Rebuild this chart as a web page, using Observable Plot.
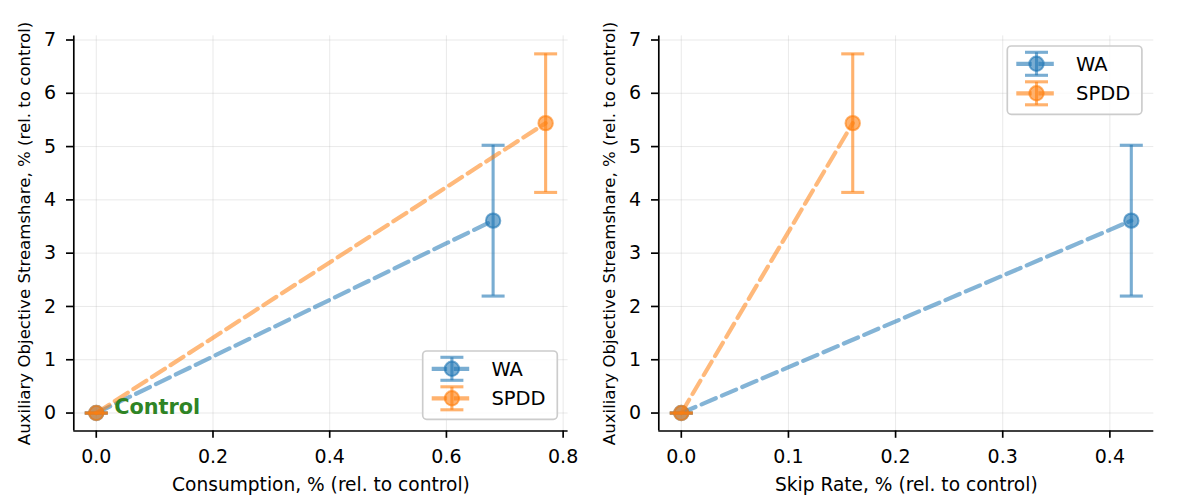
<!DOCTYPE html>
<html><head><meta charset="utf-8">
<script src="https://cdn.jsdelivr.net/npm/d3@7"></script>
<script src="https://cdn.jsdelivr.net/npm/@observablehq/plot@0.6"></script>
<style>
body{margin:0;background:#fff;}
#wrap{display:flex;width:1192px;height:496px;overflow:hidden;}
</style></head><body><div id="wrap"></div>
<script>
// ---- data ----
const series = ["WA", "SPDD"];
const seriesColors = ["#1f77b4", "#ff7f0e"];
const consumption = [0.68, 0.77];
const skipRate = [0.42, 0.16];
const streamshare = [3.61, 5.44];
const streamshareErr = [1.415, 1.30];
const controlPoint = {x: 0, y: 0, err: 0};
const controlLabel = "Control";
const ticksConsumption = [0, 0.2, 0.4, 0.6, 0.8];
const ticksSkip = [0, 0.1, 0.2, 0.3, 0.4];
const ticksY = [0, 1, 2, 3, 4, 5, 6, 7];
const labelConsumption = "Consumption, % (rel. to control)";
const labelSkip = "Skip Rate, % (rel. to control)";
const labelY = "Auxiliary Objective Streamshare, % (rel. to control)";

const capSymbol = {draw(ctx, size) { const r = Math.sqrt(size / Math.PI); ctx.moveTo(-r, 0); ctx.lineTo(r, 0); }};

function pad(lo, hi) { const d = hi - lo; return [lo - 0.05 * d, hi + 0.05 * d]; }

function panel({xs, xTicks, xLabel, marginLeft, marginRight, legendX, legendY, showControl}) {
  const rows = series.map((s, i) => [
    {series: s, x: controlPoint.x, y: controlPoint.y, lo: controlPoint.y - controlPoint.err, hi: controlPoint.y + controlPoint.err},
    {series: s, x: xs[i], y: streamshare[i], lo: streamshare[i] - streamshareErr[i], hi: streamshare[i] + streamshareErr[i]}
  ]);
  const all = rows.flat();
  const xd = pad(d3.min(all, d => d.x), d3.max(all, d => d.x));
  const yd = pad(d3.min(all, d => d.lo), d3.max(all, d => d.hi));
  const marks = [
    Plot.gridX(xTicks, {stroke: "#b0b0b0", strokeOpacity: 0.28, strokeWidth: 1}),
    Plot.gridY(ticksY, {stroke: "#b0b0b0", strokeOpacity: 0.28, strokeWidth: 1}),
    Plot.ruleX([xd[0]], {stroke: "black", strokeWidth: 1.67}),
    Plot.ruleY([yd[0]], {stroke: "black", strokeWidth: 1.67}),
    Plot.axisX({ticks: xTicks, tickFormat: d3.format(".1f"), tickSize: 7.3, tickPadding: 10.8, strokeWidth: 1.67, label: xLabel, labelAnchor: "center", labelArrow: "none", labelOffset: 60, fontSize: 19}),
    Plot.axisY({ticks: ticksY, tickFormat: d3.format("d"), tickSize: 7.3, tickPadding: 10.5, strokeWidth: 1.67, label: labelY, labelAnchor: "center", labelArrow: "none", labelOffset: 56, fontSize: 19})
  ];
  rows.forEach((r, i) => {
    const c = seriesColors[i];
    marks.push(
      Plot.line(r, {x: "x", y: "y", stroke: c, strokeOpacity: 0.55, strokeWidth: 4.2, strokeDasharray: "15.4,6.7"}),
      Plot.ruleX(r, {x: "x", y1: "lo", y2: "hi", stroke: c, strokeOpacity: 0.6, strokeWidth: 3.1}),
      Plot.dot(r, {x: "x", y: "hi", symbol: capSymbol, r: 11.5, fill: "none", stroke: c, strokeOpacity: 0.6, strokeWidth: 3.1}),
      Plot.dot(r, {x: "x", y: "lo", symbol: capSymbol, r: 11.5, fill: "none", stroke: c, strokeOpacity: 0.6, strokeWidth: 3.1}),
      Plot.dot(r, {x: "x", y: "y", r: 7.2, fill: c, fillOpacity: 0.6, stroke: c, strokeOpacity: 0.6, strokeWidth: 2})
    );
  });
  if (showControl) {
    marks.push(Plot.text([controlPoint], {x: "x", y: "y", text: () => controlLabel, dx: 18, dy: 0.7, lineAnchor: "bottom", textAnchor: "start", fill: "#2f8425", fontWeight: "bold", fontSize: 20.8}));
  }
  const svg = Plot.plot({
    width: 596, height: 496,
    marginLeft, marginRight, marginTop: 35.4, marginBottom: 65.5,
    x: {domain: xd},
    y: {domain: yd},
    style: {fontFamily: "DejaVu Sans", fontSize: "19px", background: "white", color: "black", overflow: "visible"},
    marks
  });
  d3.select(svg).selectAll('g[aria-label="y-axis label"] text').attr("font-size", 16.6);
  d3.select(svg).selectAll('g[aria-label="x-axis label"] text').attr("font-size", 18.6);
  // legend
  const g = d3.select(svg).append("g").attr("font-family", "DejaVu Sans").attr("text-anchor", "start");
  g.append("rect").attr("x", legendX).attr("y", legendY).attr("width", 134.6).attr("height", 68.3).attr("rx", 4)
    .attr("fill", "white").attr("fill-opacity", 0.8).attr("stroke", "#cccccc").attr("stroke-width", 1.67);
  series.forEach((s, i) => {
    const c = seriesColors[i];
    const cy = legendY + 17.8 + i * 29.5, cx = legendX + 29.2;
    const h = g.append("g").attr("stroke", c).attr("stroke-opacity", 0.6);
    h.append("line").attr("x1", legendX + 9).attr("x2", legendX + 50).attr("y1", cy).attr("y2", cy).attr("stroke-width", 4.2).attr("stroke-dasharray", "15.4,6.7");
    h.append("line").attr("x1", cx).attr("x2", cx).attr("y1", cy - 11.5).attr("y2", cy + 11.5).attr("stroke-width", 3.1);
    h.append("line").attr("x1", cx - 11.5).attr("x2", cx + 11.5).attr("y1", cy - 11.5).attr("y2", cy - 11.5).attr("stroke-width", 3.1);
    h.append("line").attr("x1", cx - 11.5).attr("x2", cx + 11.5).attr("y1", cy + 11.5).attr("y2", cy + 11.5).attr("stroke-width", 3.1);
    h.append("circle").attr("cx", cx).attr("cy", cy).attr("r", 7.2).attr("fill", c).attr("fill-opacity", 0.6).attr("stroke-width", 2);
    g.append("text").attr("x", legendX + 68.7).attr("y", cy + 7).attr("font-size", 19.5).attr("text-anchor", "start").attr("fill", "black").text(s);
  });
  return svg;
}

const wrap = document.getElementById("wrap");
wrap.appendChild(panel({xs: consumption, xTicks: ticksConsumption, xLabel: labelConsumption, marginLeft: 73.3, marginRight: 28.4, legendX: 422.7, legendY: 351, showControl: true}));
wrap.appendChild(panel({xs: skipRate, xTicks: ticksSkip, xLabel: labelSkip, marginLeft: 62.3, marginRight: 38.7, legendX: 411.3, legendY: 46, showControl: false}));
</script></body></html>
